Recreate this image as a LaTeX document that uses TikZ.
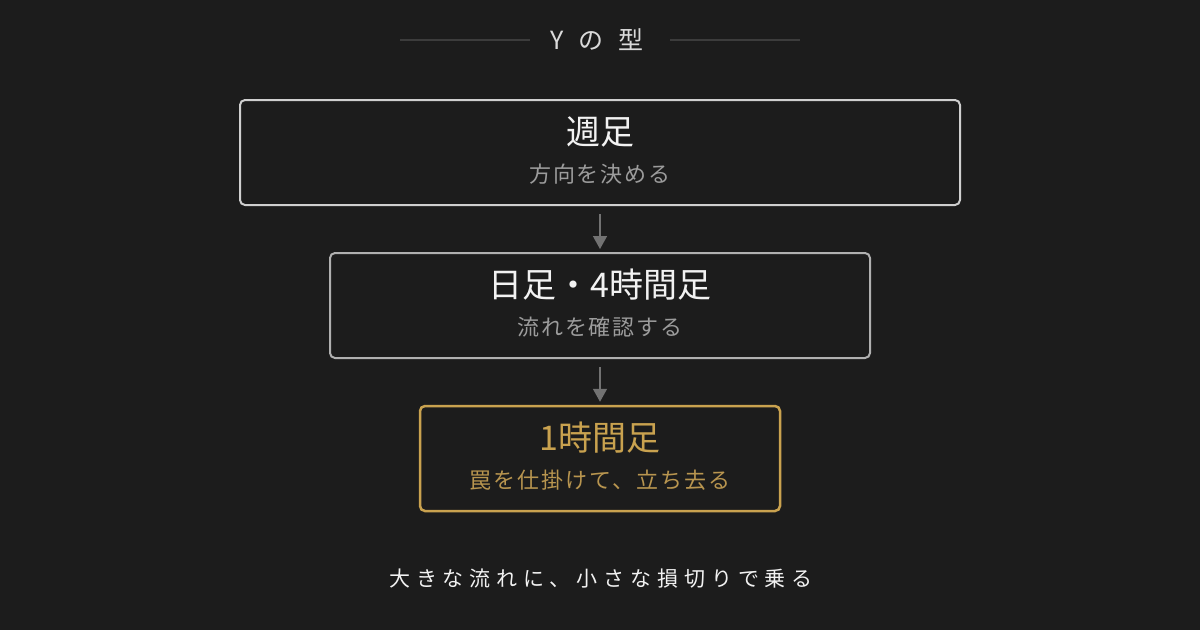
\documentclass[tikz,border=0pt]{standalone}
\usepackage{fontspec}
\setmainfont{Noto Sans CJK JP}
\newfontfamily\jpsp[LetterSpace=9]{Noto Sans CJK JP}
\newfontfamily\jpwide[LetterSpace=28]{Noto Sans CJK JP}
\usetikzlibrary{arrows.meta}
\definecolor{bg}{HTML}{1C1C1C}
\definecolor{rulec}{HTML}{3C3C3C}
\definecolor{titlec}{HTML}{DADADA}
\definecolor{border1}{HTML}{CFCFCF}
\definecolor{border2}{HTML}{B0B0B0}
\definecolor{goldc}{HTML}{C9A24F}
\definecolor{goldsub}{HTML}{B8954F}
\definecolor{mainc}{HTML}{F2F2F2}
\definecolor{subc}{HTML}{9C9C9C}
\definecolor{arrc}{HTML}{727272}
\begin{document}
\begin{tikzpicture}[x=1pt,y=-1pt,
  box/.style={draw, rounded corners=5pt, line width=2pt, fill=bg, inner sep=0pt},
  jtext/.style={inner sep=0pt, anchor=base},
  headtxt/.style={jtext, font=\fontsize{34}{40}\selectfont},
  subtxt/.style={jtext, font=\fontsize{22}{26}\selectfont\jpsp},
  arr/.style={draw=arrc, line width=1.5pt, -{Triangle[width=14pt,length=13pt]}, shorten <=8pt, shorten >=3pt}
]
\fill[bg] (0,0) rectangle (1200,630);
\useasboundingbox (0,0) rectangle (1200,630);
% title
\node[jtext, text=titlec, font=\fontsize{25}{28}\selectfont] (title) at (597,49.5) {Y\hspace{15pt}の\hspace{15pt}型};
\coordinate (tl1) at (400,40);
\coordinate (tr1) at (800,40);
\draw[rulec, line width=1.2pt] (tl1) -- (530,40);
\draw[rulec, line width=1.2pt] (670,40) -- (tr1);
% boxes
\node[box, draw=border1, minimum width=720pt, minimum height=105pt] (b1) at (600,152.5) {};
\node[box, draw=border2, minimum width=540pt, minimum height=105pt] (b2) at (600,305.5) {};
\node[box, draw=goldc, line width=2.5pt, minimum width=360pt, minimum height=105pt] (b3) at (600,458.5) {};
% texts
\node[headtxt, text=mainc] (h1) at (600,144) {週足};
\node[subtxt, text=subc] (s1) at (600,182.5) {方向を決める};
\node[headtxt, text=mainc] (h2) at (600,297) {日足・4時間足};
\node[subtxt, text=subc] (s2) at (600,335.5) {流れを確認する};
\node[headtxt, text=goldc] (h3) at (600,450) {1時間足};
\node[subtxt, text=goldsub] (s3) at (600,488.5) {罠を仕掛けて、立ち去る};
% arrows
\draw[arr] (b1.south) -- (b2.north);
\draw[arr] (b2.south) -- (b3.north);
% footer
\node[jtext, text=mainc, font=\fontsize{21}{25}\selectfont\jpwide] (foot) at (601,586) {大きな流れに、小さな損切りで乗る};
\end{tikzpicture}
\end{document}
